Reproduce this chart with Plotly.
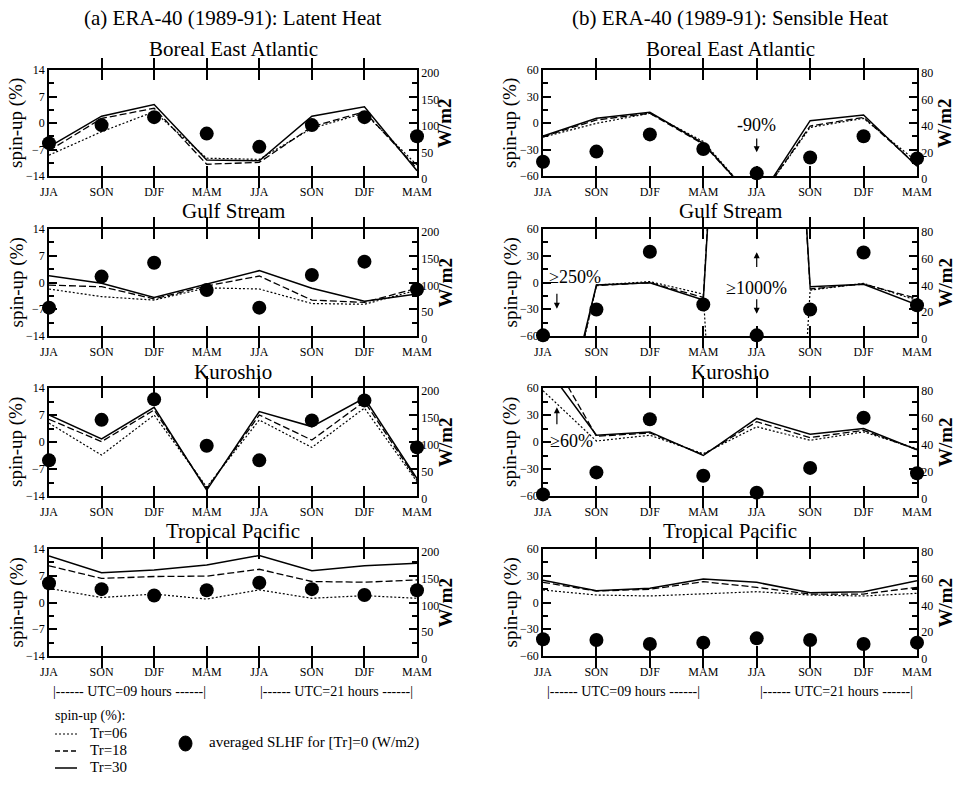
import plotly.graph_objects as go

W, H = 955, 794
FONT = "Liberation Serif, Times New Roman, DejaVu Serif, serif"

seasons = ["JJA", "SON", "DJF", "MAM", "JJA", "SON", "DJF", "MAM"]
xpos = list(range(8))

regions = ["Boreal East Atlantic", "Gulf Stream", "Kuroshio", "Tropical Pacific"]

# ---- (a) Latent heat: spin-up (%) and averaged SLHF (W/m2)
lat_tr06 = [
    [-8.5, -2.3, 3.0, -9.3, -9.6, -1.4, 2.6, -11.1],
    [-1.7, -3.7, -4.6, -1.4, -1.7, -5.5, -5.7, -2.0],
    [4.9, -3.4, 7.0, -11.7, 5.7, -1.4, 8.8, -10.3],
    [3.7, 1.3, 2.2, 0.9, 3.3, 1.1, 1.8, 1.1],
]
lat_tr18 = [
    [-7.3, 1.2, 3.9, -10.9, -10.4, -1.0, 3.0, -12.0],
    [-0.7, -1.1, -4.3, -0.9, 1.7, -4.6, -5.2, -1.5],
    [5.9, 0.1, 8.3, -12.1, 7.0, 0.5, 10.5, -9.9],
    [9.6, 6.3, 6.8, 6.9, 8.7, 5.5, 5.3, 5.9],
]
lat_tr30 = [
    [-6.3, 1.8, 4.9, -9.8, -10.0, 1.8, 4.3, -12.6],
    [1.8, -0.2, -3.9, -0.5, 3.1, -1.5, -4.9, -3.0],
    [7.0, 0.8, 9.0, -12.5, 7.9, 4.0, 11.4, -9.5],
    [12.2, 7.8, 8.5, 9.8, 12.3, 8.3, 9.6, 10.3],
]
lat_flux = [
    [62, 96, 111, 80, 55, 96, 111, 75],
    [53, 111, 137, 86, 53, 114, 139, 87],
    [66, 141, 179, 93, 66, 140, 177, 90],
    [136, 125, 113, 123, 137, 125, 114, 123],
]

# ---- (b) Sensible heat: spin-up (%) and averaged flux (W/m2)
sen_tr06 = [
    [-16, -0.4, 11, -21, -90, -5, 5.3, -44],
    [-270, -2.8, 1, -13, -1000, -8.5, -1, -20],
    [57, 1.1, 7.5, -13, 16.9, 1.9, 11.2, -7.5],
    [14, 8.4, 7.3, 9.5, 12.1, 8.4, 7.3, 10.3],
]
sen_tr18 = [
    [-15.5, 3.4, 11, -24, -90, -3.4, 6.4, -48],
    [-260, -3.5, -0.2, -16.7, 1000, -7.3, -1.7, -18],
    [110, 6.4, 10, -14.2, 22.5, 4.9, 13, -8.6],
    [22.6, 12.9, 14.8, 23.4, 17, 9.5, 9.5, 17],
]
sen_tr30 = [
    [-14.7, 5.3, 12.1, -23, -90, 2.6, 9, -49],
    [-250, -2.8, -0.2, -19.7, 1000, -4.7, -2, -25],
    [88, 7.5, 11.2, -15, 26.2, 8.6, 15, -8.6],
    [25, 13.3, 15.9, 26.4, 22.6, 11, 12.1, 24.5],
]
sen_flux = [
    [10.8, 18.4, 31.4, 20.4, 2, 14, 30, 13.3],
    [0.5, 19.8, 63, 23.6, 0.5, 19.8, 62.4, 23],
    [1.2, 17.5, 56.8, 15, 2.5, 20.8, 58, 16.8],
    [12.5, 12, 9, 10, 13.2, 12, 9, 10],
]

col_titles = ["(a) ERA-40 (1989-91): Latent Heat", "(b) ERA-40 (1989-91): Sensible Heat"]

# layout geometry in pixels
col_x = [(49, 417), (543, 917)]
row_y = [(70, 176), (229, 336), (388, 496), (549, 656)]
title_y = [49, 211, 372, 531]


def px(x):
    return x / W


def py(y):
    return 1 - y / H


fig = go.Figure()
layout = dict(
    width=W, height=H,
    margin=dict(l=0, r=0, t=0, b=0, autoexpand=False),
    paper_bgcolor="white", plot_bgcolor="white",
    showlegend=False,
    font=dict(family=FONT, color="black", size=12),
)
annotations = []
shapes = []

for c in range(2):
    if c == 0:
        t06, t18, t30, flux = lat_tr06, lat_tr18, lat_tr30, lat_flux
        yl_range, yl_dtick, yl_minor = [-14, 14], 7, 3.5
        yr_range, yr_dtick, yr_minor = [0, 200], 50, 25
    else:
        t06, t18, t30, flux = sen_tr06, sen_tr18, sen_tr30, sen_flux
        yl_range, yl_dtick, yl_minor = [-60, 60], 30, 15
        yr_range, yr_dtick, yr_minor = [0, 80], 20, 10
    x0, x1 = col_x[c]
    for r in range(4):
        k = c * 4 + r + 1
        kr = k + 8
        y0, y1 = row_y[r]
        xa = "x" if k == 1 else f"x{k}"
        ya = "y" if k == 1 else f"y{k}"
        yra = f"y{kr}"
        layout[f"xaxis{k}"] = dict(
            domain=[px(x0), px(x1)], anchor=ya, range=[0, 7],
            tickmode="array", tickvals=xpos, ticktext=seasons,
            ticks="inside", ticklen=10, tickwidth=1.5, tickcolor="black",
            showline=True, linecolor="black", linewidth=1.5, mirror="allticks",
            showgrid=False, zeroline=False, ticklabelstandoff=4,
            tickfont=dict(family=FONT, size=12, color="black"),
        )
        layout[f"yaxis{k}"] = dict(
            domain=[py(y1), py(y0)], anchor=xa, range=yl_range,
            tick0=yl_range[0], dtick=yl_dtick,
            ticks="inside", ticklen=8, tickwidth=1.5, tickcolor="black",
            minor=dict(ticks="inside", ticklen=5, dtick=yl_minor, tick0=yl_range[0],
                       tickcolor="black", tickwidth=1.5, showgrid=False),
            showline=True, linecolor="black", linewidth=1.5,
            showgrid=False, zeroline=False,
            tickfont=dict(family=FONT, size=12, color="black"),
        )
        layout[f"yaxis{kr}"] = dict(
            overlaying=ya, anchor=xa, side="right", range=yr_range,
            tick0=0, dtick=yr_dtick,
            ticks="inside", ticklen=8, tickwidth=1.5, tickcolor="black",
            minor=dict(ticks="inside", ticklen=5, dtick=yr_minor, tick0=0,
                       tickcolor="black", tickwidth=1.5, showgrid=False),
            showline=True, linecolor="black", linewidth=1.5,
            showgrid=False, zeroline=False, ticklabelshift=3,
            tickfont=dict(family=FONT, size=12, color="black"),
        )
        # spin-up lines
        for vals, dash, lw in ((t06[r], "2px,2px", 1.2), (t18[r], "7px,3px", 1.3), (t30[r], "solid", 1.5)):
            fig.add_trace(go.Scatter(
                x=xpos, y=vals, mode="lines", xaxis=xa, yaxis=ya,
                line=dict(color="black", width=lw, dash=dash), hoverinfo="skip",
            ))
        # averaged flux dots
        fig.add_trace(go.Scatter(
            x=xpos, y=flux[r], mode="markers", xaxis=xa, yaxis=yra,
            marker=dict(color="black", size=14, symbol="circle"),
            cliponaxis=False, hoverinfo="skip",
        ))
        # panel title
        annotations.append(dict(
            text=regions[r], x=px((x0 + x1) / 2), y=py(title_y[r]),
            xref="paper", yref="paper", showarrow=False,
            xanchor="center", yanchor="middle",
            font=dict(family=FONT, size=21, color="black"),
        ))
        # axis titles
        annotations.append(dict(
            text="spin-up (%)", x=px(x0 - 33), y=py((y0 + y1) / 2),
            xref="paper", yref="paper", showarrow=False, textangle=-90,
            xanchor="center", yanchor="middle",
            font=dict(family=FONT, size=19, color="black"),
        ))
        annotations.append(dict(
            text="<b>W/m2</b>", x=px(x1 + 28), y=py((y0 + y1) / 2),
            xref="paper", yref="paper", showarrow=False, textangle=-90,
            xanchor="center", yanchor="middle",
            font=dict(family=FONT, size=19, color="black"),
        ))
    # main column title
    annotations.append(dict(
        text=col_titles[c], x=px((x0 + x1) / 2), y=py(18),
        xref="paper", yref="paper", showarrow=False,
        xanchor="center", yanchor="middle",
        font=dict(family=FONT, size=21, color="black"),
    ))
    # UTC labels
    for (a, b), lbl in (((x0, x0 + 160), "|------ UTC=09 hours ------|"),
                        ((x1 - 162, x1), "|------ UTC=21 hours ------|")):
        annotations.append(dict(
            text=lbl, x=px((a + b) / 2), y=py(691),
            xref="paper", yref="paper", showarrow=False,
            xanchor="center", yanchor="middle",
            font=dict(family=FONT, size=14, color="black"),
        ))


# in-panel text notes (sensible heat column)
def refs(k):
    return ("x" if k == 1 else f"x{k}"), ("y" if k == 1 else f"y{k}")


def note(text, k, x, y, size=18):
    xa, ya = refs(k)
    annotations.append(dict(
        text=text, x=x, y=y, xref=xa, yref=ya, showarrow=False,
        xanchor="center", yanchor="middle",
        font=dict(family=FONT, size=size, color="black"),
    ))


def arrow(k, x, y_tail, y_head):
    xa, ya = refs(k)
    annotations.append(dict(
        text="", x=x, y=y_head, ax=x, ay=y_tail,
        xref=xa, yref=ya, axref=xa, ayref=ya,
        showarrow=True, arrowhead=2, arrowsize=1.0, arrowwidth=1.2,
        arrowcolor="black",
    ))


note("-90%", 5, 4, -2.3)
arrow(5, 4, -15.8, -33)
note("≥250%", 6, 0.6, 5.7)
arrow(6, 0.26, -11, -29.5)
note("≥1000%", 6, 4, -5.7)
arrow(6, 4, 15.8, 34)
arrow(6, 4, -17, -35)
arrow(7, 0.26, 18, 38.5)
note("≥60%", 7, 0.54, 1.1)

# bottom legend
annotations.append(dict(text="spin-up (%):", x=px(53), y=py(716), xref="paper", yref="paper",
                        showarrow=False, xanchor="left", yanchor="middle",
                        font=dict(family=FONT, size=14, color="black")))
for yy, lbl, dash, lw in ((734, "Tr=06", "2px,2px", 1.2), (751, "Tr=18", "5px,3px", 1.3), (768, "Tr=30", "solid", 1.5)):
    shapes.append(dict(type="line", xref="paper", yref="paper",
                       x0=px(55), x1=px(77), y0=py(yy), y1=py(yy),
                       line=dict(color="black", width=lw, dash=dash)))
    annotations.append(dict(text=lbl, x=px(88), y=py(yy - 1), xref="paper", yref="paper",
                            showarrow=False, xanchor="left", yanchor="middle",
                            font=dict(family=FONT, size=15, color="black")))
shapes.append(dict(type="circle", xref="paper", yref="paper",
                   x0=px(179), x1=px(192), y0=py(751), y1=py(736),
                   fillcolor="black", line=dict(color="black", width=1)))
annotations.append(dict(text="averaged SLHF for [Tr]=0 (W/m2)", x=px(207), y=py(742),
                        xref="paper", yref="paper", showarrow=False,
                        xanchor="left", yanchor="middle",
                        font=dict(family=FONT, size=15, color="black")))

layout["annotations"] = annotations
layout["shapes"] = shapes
fig.update_layout(**layout)
fig.write_html("out.html")
